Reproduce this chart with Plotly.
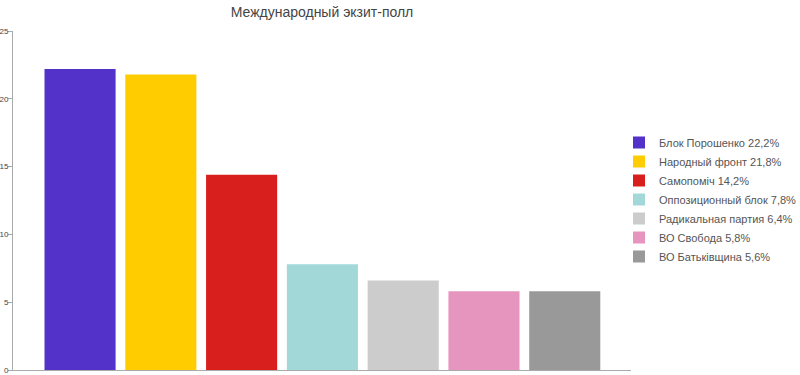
import plotly.graph_objects as go

title = "Международный экзит-полл"
parties = ["Блок Порошенко", "Народный фронт", "Самопоміч", "Оппозиционный блок",
           "Радикальная партия", "ВО Свобода", "ВО Батьківщина"]
label_pct = ["22,2%", "21,8%", "14,2%", "7,8%", "6,4%", "5,8%", "5,6%"]
values = [22.2, 21.8, 14.4, 7.8, 6.6, 5.8, 5.8]
colors = ["#5232C8", "#FFCC00", "#D91E1E", "#A2D8D8", "#CCCCCC", "#E695BE", "#999999"]
y_ticks = [0, 5, 10, 15, 20, 25]

fig = go.Figure()
for i, (p, lp, v, c) in enumerate(zip(parties, label_pct, values, colors)):
    fig.add_trace(go.Bar(
        x=[i], y=[v], name=f"{p} {lp}",
        marker=dict(color=c, line=dict(width=0)),
        width=0.88,
    ))

fig.update_layout(
    width=800, height=375,
    margin=dict(l=13, r=169, t=31, b=5, autoexpand=False),
    paper_bgcolor="white", plot_bgcolor="white",
    font=dict(family="Liberation Sans, Arial, sans-serif", color="#555555"),
    title=dict(text=title, x=(13 + 309) / 800, xanchor="center", y=0.968, yanchor="middle",
               font=dict(size=14, color="#444444")),
    barmode="overlay",
    showlegend=True,
    legend=dict(xref="container", yref="container", x=619 / 800, xanchor="left",
                y=0.468, yanchor="middle",
                font=dict(size=11, color="#555555"), tracegroupgap=0,
                itemclick=False, bgcolor="rgba(0,0,0,0)"),
    xaxis=dict(range=[-0.83, 6.82], showticklabels=False, ticks="", showgrid=False,
               zeroline=False, showline=True, linecolor="#AAAAAA", linewidth=1, automargin=False),
    yaxis=dict(range=[0, 25], tickvals=y_ticks, ticks="outside", ticklen=4, tickcolor="#AAAAAA",
               showgrid=False, zeroline=False, showline=True, linecolor="#AAAAAA", linewidth=1,
               tickfont=dict(size=8, color="#444444"), automargin=False,
               ticklabelstandoff=-2),
)

fig.write_html("out.html")
